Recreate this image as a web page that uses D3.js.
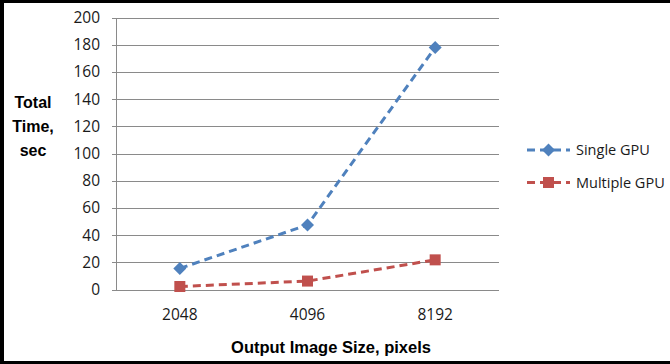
<!DOCTYPE html>
<html><head><meta charset="utf-8">
<script src="https://cdn.jsdelivr.net/npm/d3@7"></script>
<style>html,body{margin:0;padding:0;background:#fff;}svg{display:block;}</style>
</head><body>
<script>
const categories = ["2048", "4096", "8192"];
const singleGPU = [15.5, 47.5, 178];
const multipleGPU = [2.2, 6.2, 21.8];
const yTicks = [0, 20, 40, 60, 80, 100, 120, 140, 160, 180, 200];
const seriesNames = ["Single GPU", "Multiple GPU"];
const seriesColors = ["#4F81BD", "#C0504D"];
const yTitleLines = ["Total", "Time,", "sec"];
const xTitle = "Output Image Size, pixels";

(function () {
const W = 670, H = 364;
const svg = d3.select("body").append("svg").attr("width", W).attr("height", H);
svg.append("rect").attr("width", W).attr("height", H).attr("fill", "#fff");

const pLeft = 116, pRight = 499, pTop = 17.5, pBottom = 289.5;
const x = d3.scaleBand().domain(categories).range([pLeft, pRight]);
const y = d3.scaleLinear().domain([0, 200]).range([pBottom, pTop]);
const tickFont = "'Open Sans', sans-serif";

// gridlines
svg.append("g").selectAll("line").data(yTicks).join("line")
  .attr("x1", pLeft - 4).attr("x2", pRight)
  .attr("y1", d => Math.round(y(d)) + 0.5).attr("y2", d => Math.round(y(d)) + 0.5)
  .attr("stroke", "#8a8a8a").attr("stroke-width", 1);
// y axis line
svg.append("line").attr("x1", pLeft + 0.5).attr("x2", pLeft + 0.5)
  .attr("y1", Math.round(y(200)) + 0.5).attr("y2", Math.round(y(0)) + 0.5)
  .attr("stroke", "#8a8a8a");

// y tick labels
svg.append("g").selectAll("text").data(yTicks).join("text")
  .attr("x", 100).attr("y", d => y(d)).attr("dy", "0.36em")
  .attr("text-anchor", "end").attr("font-family", tickFont).attr("font-size", 15.5)
  .attr("fill", "#1a1a1a").text(d => d);

// x tick labels
svg.append("g").selectAll("text").data(categories).join("text")
  .attr("x", d => x(d) + x.bandwidth() / 2).attr("y", 320)
  .attr("text-anchor", "middle").attr("font-family", tickFont).attr("font-size", 15.5)
  .attr("fill", "#1a1a1a").text(d => d);

// titles
svg.append("g").selectAll("text").data(yTitleLines).join("text")
  .attr("x", 33).attr("y", (d, i) => 108 + i * 24)
  .attr("text-anchor", "middle").attr("font-family", "'Liberation Sans', Arial, sans-serif")
  .attr("font-weight", "bold").attr("font-size", 16).attr("fill", "#000").text(d => d);
svg.append("text").attr("x", 331).attr("y", 353).attr("text-anchor", "middle")
  .attr("font-family", "'Liberation Sans', Arial, sans-serif").attr("font-weight", "bold")
  .attr("font-size", 16.5).attr("fill", "#000").text(xTitle);

const line = d3.line().x((d, i) => x(categories[i]) + x.bandwidth() / 2).y(d => y(d));
const allSeries = [singleGPU, multipleGPU];

function marker(g, idx, cx, cy) {
  if (idx === 0) {
    const s = 6.5;
    g.append("path").attr("d", `M${cx},${cy - s}L${cx + s},${cy}L${cx},${cy + s}L${cx - s},${cy}Z`)
      .attr("fill", seriesColors[0]);
  } else {
    const s = 5.5;
    g.append("rect").attr("x", cx - s).attr("y", cy - s).attr("width", 2 * s).attr("height", 2 * s)
      .attr("fill", seriesColors[1]);
  }
}

allSeries.forEach((vals, idx) => {
  const g = svg.append("g");
  g.append("path").attr("d", line(vals)).attr("fill", "none")
    .attr("stroke", seriesColors[idx]).attr("stroke-width", 3).attr("stroke-dasharray", "8,5");
  vals.forEach((v, i) => marker(g, idx, x(categories[i]) + x.bandwidth() / 2, y(v)));
});

// legend
seriesNames.forEach((name, idx) => {
  const ly = 150 + idx * 32.5;
  const g = svg.append("g");
  g.append("line").attr("x1", 527).attr("x2", 570).attr("y1", ly).attr("y2", ly)
    .attr("stroke", seriesColors[idx]).attr("stroke-width", 3).attr("stroke-dasharray", "8,5");
  marker(g, idx, 548.5, ly);
  g.append("text").attr("x", 576).attr("y", ly).attr("dy", "0.36em")
    .attr("font-family", tickFont).attr("font-size", 14.5).attr("fill", "#1a1a1a").text(name);
});

// border (top, left, bottom)
svg.append("rect").attr("x", 0).attr("y", 0).attr("width", W).attr("height", 3).attr("fill", "#000");
svg.append("rect").attr("x", 0).attr("y", 0).attr("width", 4).attr("height", H).attr("fill", "#000");
svg.append("rect").attr("x", 0).attr("y", H - 3).attr("width", W).attr("height", 3).attr("fill", "#000");
})();
</script>
</body></html>
